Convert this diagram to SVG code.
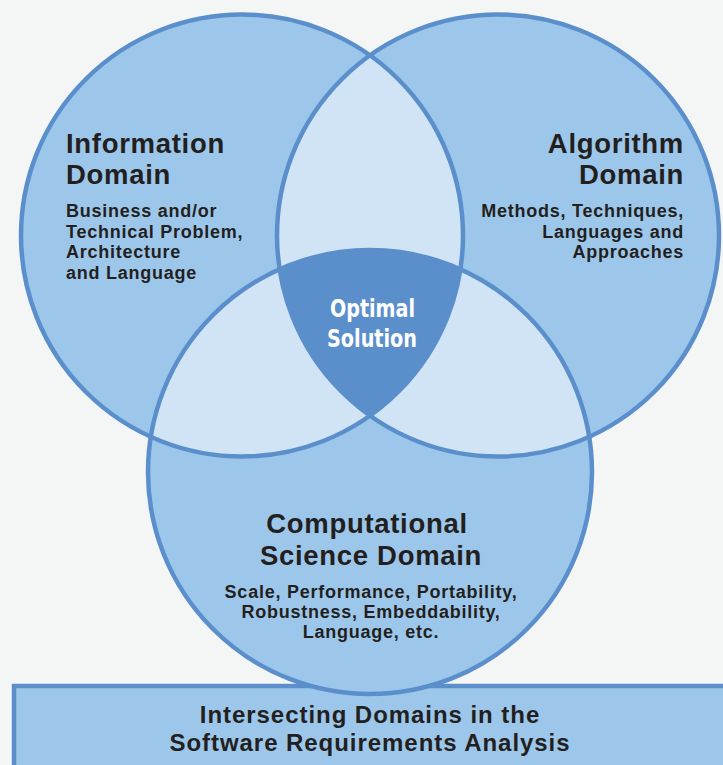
<svg xmlns="http://www.w3.org/2000/svg" width="723" height="765" viewBox="0 0 723 765">
<style>
.fill{fill:#9dc7ea}
.light{fill:#d0e4f5}
.dark{fill:#5a8fcb}
.ring{fill:none;stroke:#5b8fcc;stroke-width:4.5}
.h{font-family:"Liberation Sans",Arial,sans-serif;font-weight:bold;font-size:27.5px;letter-spacing:0.7px;fill:#231f20}
.s{font-family:"Liberation Sans",Arial,sans-serif;font-weight:bold;font-size:18px;letter-spacing:0.75px;fill:#231f20}
.o{font-family:"DejaVu Sans Condensed","DejaVu Sans",sans-serif;font-weight:bold;font-size:25px;fill:#ffffff}
.b{font-family:"Liberation Sans",Arial,sans-serif;font-weight:bold;font-size:24px;letter-spacing:0.95px;fill:#231f20}
</style>
<defs>
<clipPath id="cL"><circle cx="242" cy="235.5" r="221"/></clipPath>
<clipPath id="cR"><circle cx="498" cy="235.5" r="221"/></clipPath>
<clipPath id="cB"><circle cx="370" cy="472" r="222"/></clipPath>
</defs>
<rect x="0" y="0" width="723" height="765" fill="#f4f6f6"/>
<g id="title-box">
<rect x="14" y="686" width="720" height="100" class="fill" stroke="#5b8fcc" stroke-width="4.5"/>
<text class="b" text-anchor="middle" x="370" y="723">Intersecting Domains in the</text>
<text class="b" text-anchor="middle" x="370" y="751">Software Requirements Analysis</text>
</g>
<g id="circles">
<circle cx="242" cy="235.5" r="221" class="fill"/>
<circle cx="498" cy="235.5" r="221" class="fill"/>
<circle cx="370" cy="472" r="222" class="fill"/>
<circle cx="498" cy="235.5" r="221" class="light" clip-path="url(#cL)"/>
<circle cx="370" cy="472" r="222" class="light" clip-path="url(#cL)"/>
<circle cx="370" cy="472" r="222" class="light" clip-path="url(#cR)"/>
<g clip-path="url(#cL)"><g clip-path="url(#cR)"><circle cx="370" cy="472" r="222" class="dark"/></g></g>
<circle cx="242" cy="235.5" r="221" class="ring"/>
<circle cx="498" cy="235.5" r="221" class="ring"/>
<circle cx="370" cy="472" r="222" class="ring"/>
</g>
<g id="information-domain">
<text class="h" x="66" y="153">Information</text>
<text class="h" x="66" y="184">Domain</text>
<text class="s" x="66" y="217">Business and/or</text>
<text class="s" x="66" y="237.5">Technical Problem,</text>
<text class="s" x="66" y="258">Architecture</text>
<text class="s" x="66" y="278.5">and Language</text>
</g>
<g id="algorithm-domain">
<text class="h" text-anchor="end" x="684" y="153">Algorithm</text>
<text class="h" text-anchor="end" x="684" y="184">Domain</text>
<text class="s" text-anchor="end" x="684" y="217">Methods, Techniques,</text>
<text class="s" text-anchor="end" x="684" y="237.5">Languages and</text>
<text class="s" text-anchor="end" x="684" y="258">Approaches</text>
</g>
<g id="optimal-solution">
<text class="o" x="330" y="317" textLength="85" lengthAdjust="spacingAndGlyphs">Optimal</text>
<text class="o" x="327" y="347" textLength="90" lengthAdjust="spacingAndGlyphs">Solution</text>
</g>
<g id="computational-science-domain">
<text class="h" text-anchor="middle" x="367" y="533">Computational</text>
<text class="h" text-anchor="middle" x="371" y="565">Science Domain</text>
<text class="s" text-anchor="middle" x="371" y="598">Scale, Performance, Portability,</text>
<text class="s" text-anchor="middle" x="371" y="618">Robustness, Embeddability,</text>
<text class="s" text-anchor="middle" x="371" y="638">Language, etc.</text>
</g>
</svg>
